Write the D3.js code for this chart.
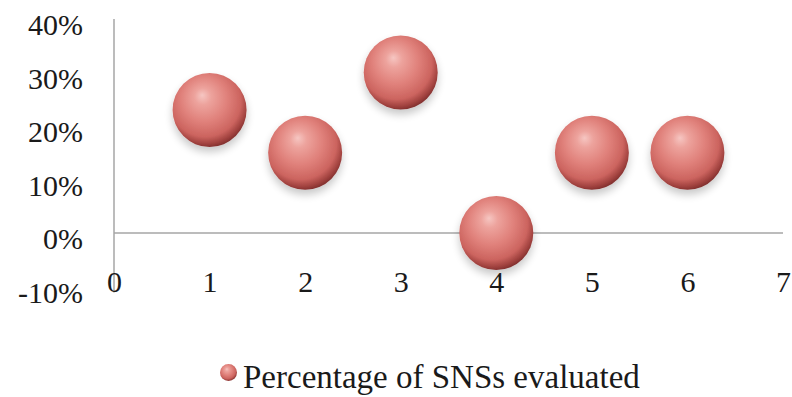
<!DOCTYPE html>
<html>
<head>
<meta charset="utf-8">
<script src="https://cdn.jsdelivr.net/npm/d3@7/dist/d3.min.js"></script>
<style>
  html, body { margin: 0; padding: 0; background: #fff; }
  svg { display: block; }
  text { font-family: "Liberation Serif", "Times New Roman", serif; fill: #1a1a1a; }
</style>
</head>
<body>
<svg id="chart" width="792" height="397"></svg>
<script>
// SNS evaluation share per position
const xValues = [1, 2, 3, 4, 5, 6];
const shareValues = [0.23, 0.15, 0.30, 0.00, 0.15, 0.15];
const seriesName = "Percentage of SNSs evaluated";
const yTicks = [-0.1, 0, 0.1, 0.2, 0.3, 0.4];
const xTicks = [0, 1, 2, 3, 4, 5, 6, 7];

const svg = d3.select("#chart");
const plot = { left: 114, right: 783, top: 19, bottom: 286.5 };

const x = d3.scaleLinear().domain([0, 7]).range([plot.left, plot.right]);
const y = d3.scaleLinear().domain([-0.1, 0.4]).range([plot.bottom, plot.top]);

const defs = svg.append("defs");
const grad = defs.append("radialGradient")
  .attr("id", "ball")
  .attr("cx", "45%").attr("cy", "40%").attr("r", "62%")
  .attr("fx", "40%").attr("fy", "30%");
[
  [0, "#f6c6c2"],
  [0.18, "#eda39d"],
  [0.5, "#e0817b"],
  [0.78, "#cc645f"],
  [0.92, "#9e403d"],
  [1, "#7a2c2b"]
].forEach(([o, c]) => grad.append("stop").attr("offset", o).attr("stop-color", c));

const shadow = defs.append("filter").attr("id", "soft")
  .attr("x", "-40%").attr("y", "-40%").attr("width", "180%").attr("height", "190%");
shadow.append("feGaussianBlur").attr("in", "SourceAlpha").attr("stdDeviation", 4).attr("result", "b");
shadow.append("feOffset").attr("in", "b").attr("dy", 5).attr("result", "o");
shadow.append("feComponentTransfer").attr("in", "o").attr("result", "s")
  .append("feFuncA").attr("type", "linear").attr("slope", 0.22);
const merge = shadow.append("feMerge");
merge.append("feMergeNode").attr("in", "s");
merge.append("feMergeNode").attr("in", "SourceGraphic");

// y axis with percentage labels
const yAxis = d3.axisLeft(y).tickValues(yTicks).tickSize(0)
  .tickFormat(d => `${Math.round(d * 100)}%`);
const gy = svg.append("g").attr("transform", `translate(${plot.left},0)`).call(yAxis);
gy.select(".domain").attr("stroke", "#a6a6a6").attr("stroke-width", 1.5)
  .attr("d", `M0,${plot.top}V${plot.bottom + 6}`);
gy.selectAll(".tick text")
  .attr("x", -31).attr("dy", "0.52em")
  .style("font-size", "30px").attr("fill", "#1a1a1a");

// horizontal zero line (x axis line only; labels are drawn above the bubbles)
const xAxis = d3.axisBottom(x).tickValues(xTicks).tickSize(0).tickFormat(d3.format("d"));
const gx = svg.append("g").attr("transform", `translate(0,${y(0)})`).call(xAxis);
gx.select(".domain").attr("stroke", "#a6a6a6").attr("stroke-width", 1.5)
  .attr("d", `M${plot.left},0H${plot.right}`);
gx.selectAll(".tick").remove();

// bubbles
svg.append("g").selectAll("circle")
  .data(xValues.map((v, i) => ({ x: v, y: shareValues[i] })))
  .join("circle")
  .attr("cx", d => x(d.x))
  .attr("cy", d => y(d.y))
  .attr("r", 37)
  .attr("fill", "url(#ball)")
  .attr("filter", "url(#soft)");

// x tick labels on top of the bubbles
const gxl = svg.append("g").attr("transform", `translate(0,${y(0)})`)
  .call(xAxis);
gxl.select(".domain").remove();
gxl.selectAll(".tick text")
  .attr("y", 0).attr("dy", "1.95em")
  .style("font-size", "30px").attr("fill", "#1a1a1a");

// legend
const lg = svg.append("g").attr("transform", "translate(228.5,372.5)");
lg.append("circle").attr("r", 8.5).attr("fill", "url(#ball)");
lg.append("text").attr("x", 14.5).attr("y", 15.5)
  .style("font-size", "33px").text(seriesName);
</script>
</body>
</html>
